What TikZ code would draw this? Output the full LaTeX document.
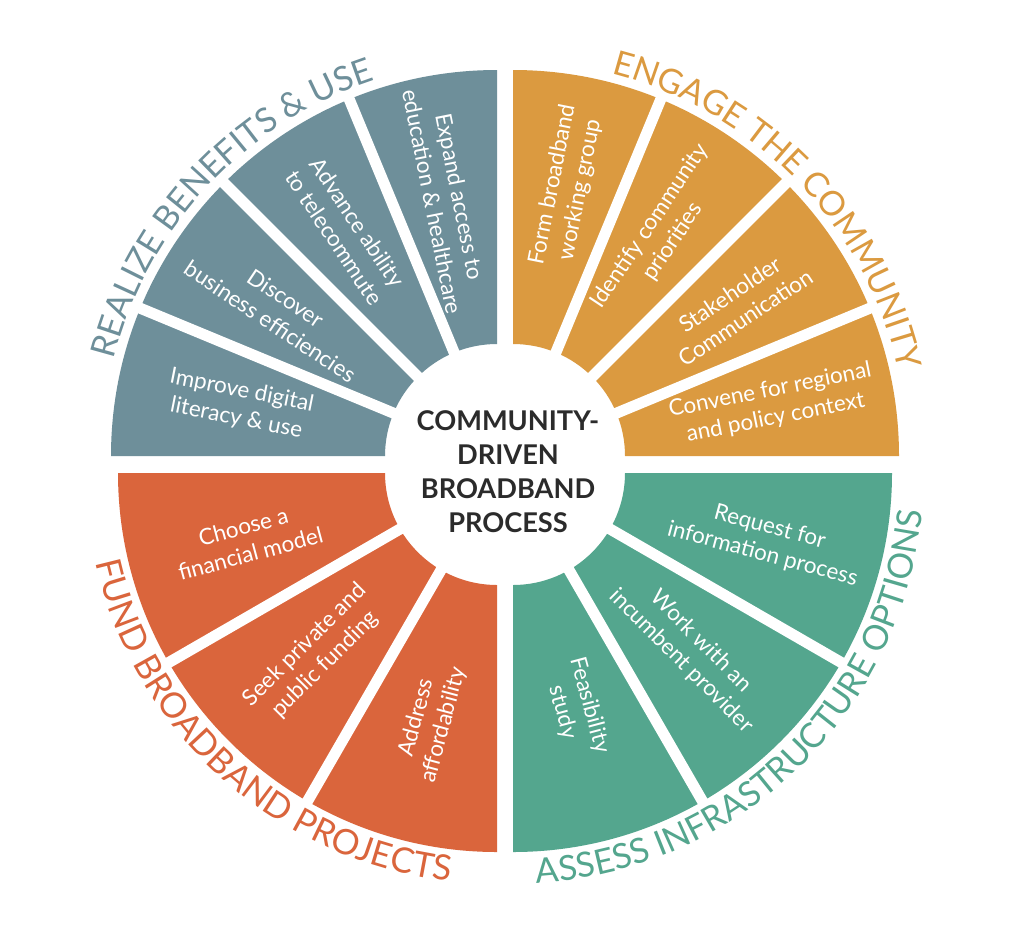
\documentclass[tikz,border=0pt]{standalone}
\usepackage{fontspec}
\setmainfont{Lato}
\usetikzlibrary{decorations.text,calc}
\definecolor{cblue}{HTML}{6E8F9A}
\definecolor{corange}{HTML}{DB9A40}
\definecolor{cred}{HTML}{DA653C}
\definecolor{cgreen}{HTML}{54A68E}
\definecolor{cdark}{HTML}{2B2B2B}
\begin{document}
\begin{tikzpicture}[x=1pt,y=1pt,
  segtext/.style={text=white, align=center, font=\fontsize{22.5}{28}\selectfont, inner sep=0pt},
  gapline/.style={white, line width=11pt},
  centertext/.style={text=cdark, align=center, font=\bfseries\fontsize{27.2}{34}\selectfont, inner sep=0pt}
]
\useasboundingbox (0,0) rectangle (1024,-943);
\fill[white] (0,0) rectangle (1024,-943);
\def\Rt{386pt}
\def\Rb{379pt}
\def\Ri{112pt}
\coordinate (ctl) at (497,-456);
\coordinate (ctr) at (513,-456);
\coordinate (cbl) at (497,-473);
\coordinate (cbr) at (513,-473);
% quadrants
\fill[cblue, shift={(ctl)}] (90:\Ri) -- (90:\Rt) arc[start angle=90,end angle=180,radius=\Rt] -- (180:\Ri) arc[start angle=180,end angle=90,radius=\Ri] -- cycle;
\fill[corange, shift={(ctr)}] (0:\Ri) -- (0:\Rt) arc[start angle=0,end angle=90,radius=\Rt] -- (90:\Ri) arc[start angle=90,end angle=0,radius=\Ri] -- cycle;
\fill[cred, shift={(cbl)}] (180:\Ri) -- (180:\Rb) arc[start angle=180,end angle=270,radius=\Rb] -- (270:\Ri) arc[start angle=270,end angle=180,radius=\Ri] -- cycle;
\fill[cgreen, shift={(cbr)}] (270:\Ri) -- (270:\Rb) arc[start angle=270,end angle=360,radius=\Rb] -- (360:\Ri) arc[start angle=360,end angle=270,radius=\Ri] -- cycle;
% gaps between segments
\foreach \a in {112.5,135,157.5} \draw[gapline] (ctl) -- ++(\a:400pt);
\foreach \a in {22.5,45,67.5} \draw[gapline] (ctr) -- ++(\a:400pt);
\foreach \a in {210,240} \draw[gapline] (cbl) -- ++(\a:400pt);
\foreach \a in {300,330} \draw[gapline] (cbr) -- ++(\a:400pt);
% segment texts: realize benefits
\node[segtext, rotate=-11.25] (tl1) at ($(ctl)+(168.75:263pt)$) {Improve digital\\literacy \& use};
\node[segtext, rotate=-33.75] (tl2) at ($(ctl)+(146.25:263pt)$) {Discover\\business efficiencies};
\node[segtext, rotate=-56.25] (tl3) at ($(ctl)+(123.75:272pt)$) {Advance ability\\to telecommute};
\node[segtext, rotate=-78.75] (tl4) at ($(ctl)+(101.25:262pt)$) {Expand access to\\education \& healthcare};
% engage the community
\node[segtext, rotate=78.75] (tr1) at ($(ctr)+(78.75:274pt)$) {Form broadband\\working group};
\node[segtext, rotate=56.25] (tr2) at ($(ctr)+(56.25:267pt)$) {Identify community\\priorities};
\node[segtext, rotate=33.75] (tr3) at ($(ctr)+(33.75:270pt)$) {Stakeholder\\Communication};
\node[segtext, rotate=11.25] (tr4) at ($(ctr)+(11.25:265pt)$) {Convene for regional\\and policy context};
% fund broadband projects
\node[segtext, rotate=15] (bl1) at ($(cbl)+(195:259pt)$) {Choose a\\financial model};
\node[segtext, rotate=45] (bl2) at ($(cbl)+(225:257pt)$) {Seek private and\\public funding};
\node[segtext, rotate=75] (bl3) at ($(cbl)+(255:257pt)$) {Address\\affordability};
% assess infrastructure options
\node[segtext, rotate=-75] (br1) at ($(cbr)+(285:244pt)$) {Feasibility\\study};
\node[segtext, rotate=-45] (br2) at ($(cbr)+(315:252pt)$) {Work with an\\incumbent provider};
\node[segtext, rotate=-15] (br3) at ($(cbr)+(345:262pt)$) {Request for\\information process};
% center
\node[centertext] (center) at (508,-472) {COMMUNITY-\\DRIVEN\\BROADBAND\\PROCESS};
% curved titles
\path[decorate, decoration={text along path, text align=center,
  text={|\color{cblue}\fontsize{34}{34}\selectfont|REALIZE BENEFITS {\&} USE}}]
  ($(ctl)+(172:395pt)$) arc[start angle=172, end angle=102, radius=395pt];
\path[decorate, decoration={text along path, text align=center,
  text={|\color{corange}\fontsize{34}{34}\selectfont|ENGAGE THE COMMUNITY}}]
  ($(ctr)+(79:395pt)$) arc[start angle=79, end angle=9, radius=395pt];
\path[decorate, decoration={text along path, text align=center,
  text={|\color{cred}\fontsize{35}{35}\selectfont|FUND BROADBAND PROJECTS}}]
  ($(cbl)+(186:411pt)$) arc[start angle=186, end angle=270, radius=411pt];
\path[decorate, decoration={text along path, text align=center,
  text={|\color{cgreen}\fontsize{34.5}{34.5}\selectfont|ASSESS INFRASTRUCTURE OPTIONS}}]
  ($(cbr)+(268:411pt)$) arc[start angle=268, end angle=360, radius=411pt];
\end{tikzpicture}
\end{document}
